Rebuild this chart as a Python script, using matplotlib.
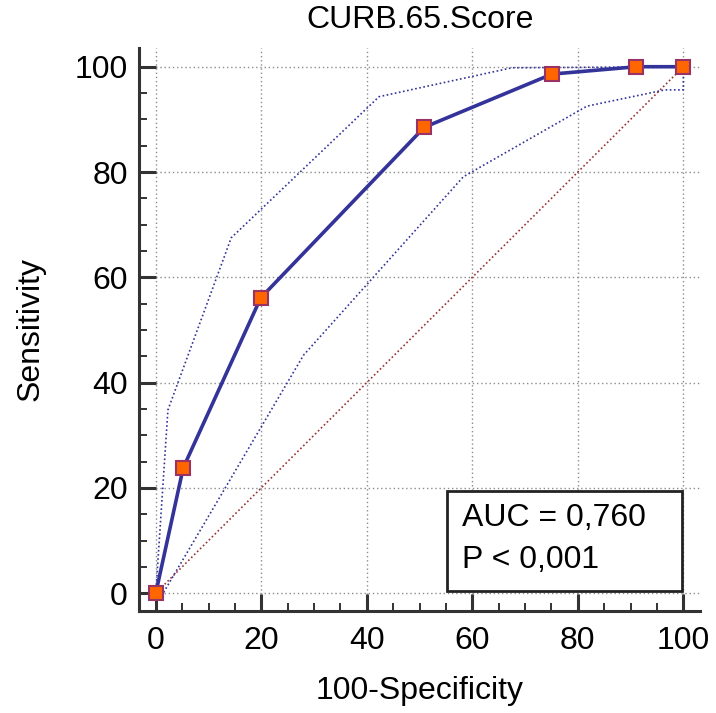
import matplotlib.pyplot as plt
from matplotlib.patches import Rectangle
from matplotlib.ticker import MultipleLocator

# ROC-Kurve CURB-65
fpr = [0, 5.2, 19.9, 50.9, 75.1, 91.1, 100]
sens = [0, 23.8, 56.1, 88.5, 98.6, 100, 100]

# Konfidenzband (obere / untere Grenze)
upper_x = [0, 2.3, 14.3, 42.3, 67.5, 100]
upper_y = [0, 34.8, 67.5, 94.3, 99.8, 100]
lower_x = [0, 1.4, 28.0, 58.3, 81.7, 96.5, 100, 100]
lower_y = [0, 0, 45.2, 79.1, 92.5, 95.6, 95.6, 100]

diag = [0, 100]
ticks = [0, 20, 40, 60, 80, 100]
auc_text = "AUC = 0,760"
p_text = "P < 0,001"

plt.rcParams['font.family'] = ['Liberation Sans', 'DejaVu Sans']

fig = plt.figure(figsize=(7.16, 7.13), dpi=100)
ax = fig.add_axes([0.194, 0.143, 0.784, 0.790])

ax.grid(True, color="#8c8c8c", linestyle=(0, (1, 2)), linewidth=1.0)
ax.set_axisbelow(True)

ax.plot(diag, diag, color="#993333", linestyle=(0, (1, 1.5)), linewidth=1.2)
ax.plot(upper_x, upper_y, color="#333399", linestyle=(0, (1, 1.5)), linewidth=1.2)
ax.plot(lower_x, lower_y, color="#333399", linestyle=(0, (1, 1.5)), linewidth=1.2)
ax.plot(fpr, sens, color="#333399", linewidth=2.6, marker="s", markersize=9.5,
        markerfacecolor="#FF6600", markeredgecolor="#993366", markeredgewidth=1.5,
        zorder=5, clip_on=False)

ax.set_xlim(-3.2, 103.2)
ax.set_ylim(-3.4, 103.6)
ax.set_xticks(ticks)
ax.set_yticks(ticks)
ax.xaxis.set_minor_locator(MultipleLocator(5))
ax.yaxis.set_minor_locator(MultipleLocator(5))

for s in ["top", "right"]:
    ax.spines[s].set_visible(False)
for s in ["left", "bottom"]:
    ax.spines[s].set_linewidth(2.2)
    ax.spines[s].set_color("#333333")

ax.tick_params(which="major", direction="in", length=12.2, width=2.2,
               color="#333333", labelsize=23, pad=8)
ax.tick_params(which="minor", direction="in", length=5.8, width=1.4,
               color="#333333")
ax.tick_params(axis="x", which="major", pad=11)

ax.set_title("CURB.65.Score", fontsize=23, pad=14)
ax.set_xlabel("100-Specificity", fontsize=23, labelpad=14)
ax.set_ylabel("Sensitivity", fontsize=23, labelpad=21)

# Textbox AUC
ax.add_patch(Rectangle((0.549, 0.0355), 0.419, 0.178, transform=ax.transAxes,
                       facecolor="white", edgecolor="#222222", linewidth=2.0,
                       zorder=6))
ax.text(0.576, 0.165, auc_text, transform=ax.transAxes, fontsize=23,
        va="center", ha="left", zorder=7)
ax.text(0.576, 0.09, p_text, transform=ax.transAxes, fontsize=23,
        va="center", ha="left", zorder=7)

fig.savefig("out.png", dpi=100)
